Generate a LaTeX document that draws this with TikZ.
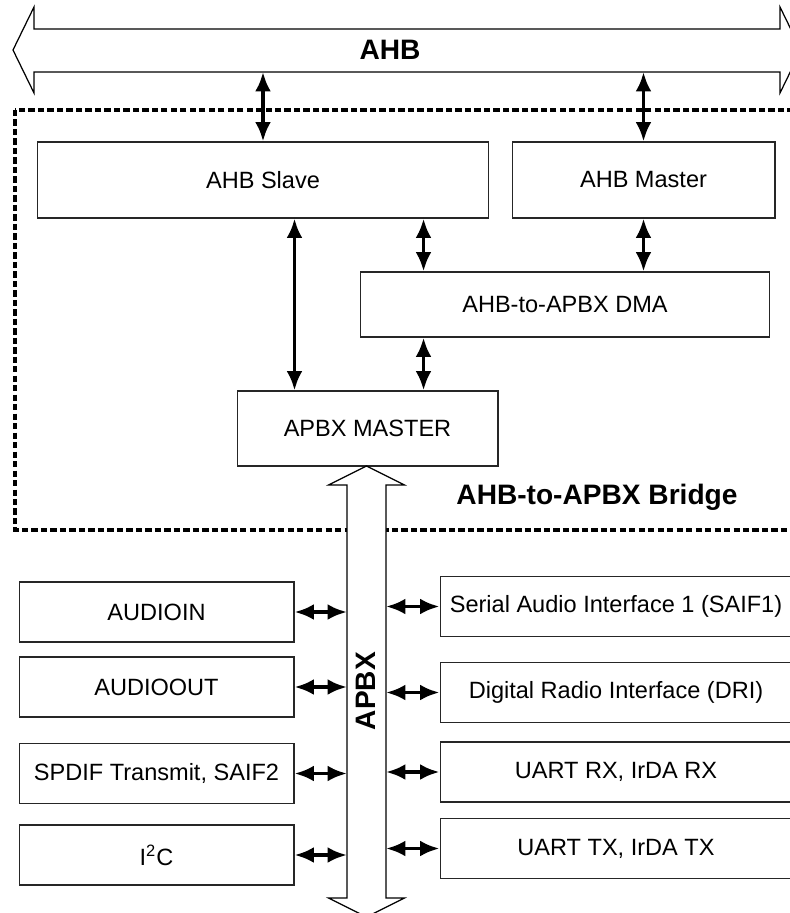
\documentclass[tikz,border=0pt]{standalone}
\usepackage{fontspec}
\setmainfont{Liberation Sans}
\usetikzlibrary{arrows.meta}

\begin{document}
\begin{tikzpicture}[
    x=0.02cm, y=-0.02cm,
    every node/.style={font=\fontsize{13.4}{16}\selectfont, align=center},
    box/.style={rectangle, draw=black!85, line width=0.6pt, inner sep=2pt},
    lbl/.style={font=\fontsize{16}{19}\selectfont\bfseries},
    arr/.style={{Latex[length=11pt,width=9pt]}-{Latex[length=11pt,width=9pt]}, line width=2.2pt},
    bus/.style={draw=black, line width=0.7pt, fill=white},
    bridge/.style={line width=2.3pt, dash pattern=on 3.6pt off 1.8pt}
]
\useasboundingbox (0,0) rectangle (790,913);
\clip (0,0) rectangle (790,913);

% AHB bus
\draw[bus] (13,50) -- (34,7) -- (34,29) -- (780,29) -- (780,7) -- (801,50)
    -- (780,93) -- (780,72) -- (34,72) -- (34,93) -- cycle;
\node[lbl] (ahb) at (390,50) {AHB};
\coordinate (ahbb) at (0,72);

% bridge block
\draw[bridge] (15,110) rectangle (805,530);
\node[lbl] (brl) at (597,497) {AHB-to-APBX Bridge};

\node[box, minimum width=9.04cm, minimum height=1.52cm] (slave)  at (263,180)   {AHB Slave};
\node[box, minimum width=5.26cm, minimum height=1.52cm] (master) at (643.5,180) {AHB Master};
\node[box, minimum width=8.2cm,  minimum height=1.3cm]  (dma)    at (565,304.5) {AHB-to-APBX DMA};
\node[box, minimum width=5.22cm, minimum height=1.5cm]  (apbxm)  at (367.5,428.5) {APBX MASTER};

\draw[arr] (slave.north)  -- (slave.north |- ahbb);
\draw[arr] (master.north) -- (master.north |- ahbb);
\draw[arr] (master.south) -- (master.south |- dma.north);
\draw[arr] (apbxm.north west) ++(58,0) coordinate (s1) -- (s1 |- slave.south);
\draw[arr] (dma.north west) ++(64,0) coordinate (s2) -- (s2 |- slave.south);
\draw[arr] (s2 |- dma.south) -- (s2 |- apbxm.north);

% APBX bus
\draw[bus] (366.5,466) -- (404.5,485) -- (386,485) -- (386,898) -- (404.5,898) -- (366.5,917)
    -- (328.5,898) -- (347,898) -- (347,485) -- (328.5,485) -- cycle;
\node[lbl, rotate=90] (apbx) at (366,691) {APBX};
\coordinate (busl) at (347,0);
\coordinate (busr) at (386,0);

% peripherals
\node[box, minimum width=5.5cm, minimum height=1.2cm] (audioin)  at (156.5,612)   {AUDIOIN};
\node[box, minimum width=5.5cm, minimum height=1.2cm] (audioout) at (156.5,687)   {AUDIOOUT};
\node[box, minimum width=5.5cm, minimum height=1.2cm] (spdif)    at (156.5,773.5) {SPDIF Transmit, SAIF2};
\node[box, minimum width=5.5cm, minimum height=1.2cm] (iic)      at (156.5,855)   {I\textsuperscript{2}C};

\node[box, minimum width=7.04cm, minimum height=1.2cm] (saif)  at (616,606.5) {Serial Audio Interface 1 (SAIF1)};
\node[box, minimum width=7.04cm, minimum height=1.2cm] (dri)   at (616,692.5) {Digital Radio Interface (DRI)};
\node[box, minimum width=7.04cm, minimum height=1.2cm] (uartrx) at (616,772)  {UART RX, IrDA RX};
\node[box, minimum width=7.04cm, minimum height=1.2cm] (uarttx) at (616,848.5) {UART TX, IrDA TX};

\draw[arr] (audioin.east)  -- (audioin.east -| busl);
\draw[arr] (audioout.east) -- (audioout.east -| busl);
\draw[arr] (spdif.east)    -- (spdif.east -| busl);
\draw[arr] (iic.east)      -- (iic.east -| busl);
\draw[arr] (saif.west)     -- (saif.west -| busr);
\draw[arr] (dri.west)      -- (dri.west -| busr);
\draw[arr] (uartrx.west)   -- (uartrx.west -| busr);
\draw[arr] (uarttx.west)   -- (uarttx.west -| busr);
\end{tikzpicture}
\end{document}
